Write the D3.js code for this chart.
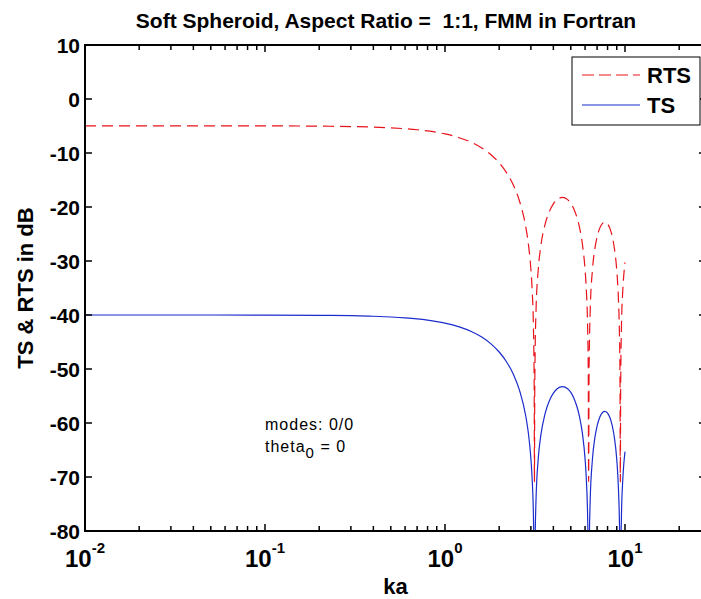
<!DOCTYPE html>
<html>
<head>
<meta charset="utf-8">
<script src="https://cdn.jsdelivr.net/npm/d3@7"></script>
<style>
  body { margin: 0; background: #fff; }
  text { font-family: "Liberation Sans", Arial, sans-serif; }
</style>
</head>
<body>
<div id="chart-area"></div>
<script>
let width = 701,
height = 599;

// data
let ka = [0.01, 0.02, 0.05, 0.1, 0.2, 0.3, 0.4, 0.5, 0.6, 0.7, 0.8, 0.9, 1.0,
  1.2, 1.4, 1.6, 1.8, 2.0, 2.2, 2.4, 2.6, 2.8, 2.9, 3.0,
  3.05, 3.1, 3.13, 3.14, 3.15, 3.17, 3.2,
  3.3, 3.4, 3.6, 3.8, 4.0, 4.2, 4.49, 4.8, 5.0, 5.2, 5.4, 5.6, 5.8, 6.0,
  6.1, 6.2, 6.25, 6.28, 6.31, 6.35, 6.4,
  6.6, 6.8, 7.0, 7.25, 7.5, 7.73, 8.0, 8.25, 8.5, 8.75, 9.0,
  9.2, 9.3, 9.38, 9.42, 9.46, 9.55, 9.7, 9.85, 10]

let rts = [-4.97, -4.97, -4.97, -4.98, -5.03, -5.10, -5.20, -5.34, -5.50, -5.69, -5.92, -6.18, -6.47,
  -7.17, -8.02, -9.06, -10.31, -11.82, -13.67, -15.98, -19.02, -23.41, -26.64, -31.52,
  -35.43, -42.42, -53.60, -70.87, -56.44, -45.92, -39.75,
  -31.38, -27.45, -23.18, -20.84, -19.43, -18.63, -18.23, -18.63, -19.31, -20.37, -21.86, -23.93, -26.90, -31.61,
  -35.47, -42.43, -50.47, -70.87, -52.40, -44.53, -39.76,
  -31.49, -27.74, -25.52, -23.87, -23.03, -22.80, -23.12, -24.00, -25.51, -27.90, -31.75,
  -37.28, -42.44, -51.40, -70.87, -53.55, -42.62, -36.02, -32.53, -30.26]

let ts = [-40.0, -40.0, -40.0, -40.01, -40.06, -40.13, -40.23, -40.37, -40.53, -40.72, -40.95, -41.21, -41.50,
  -42.20, -43.05, -44.09, -45.34, -46.85, -48.70, -51.01, -54.05, -58.44, -61.67, -66.55,
  -70.46, -77.45, -88.63, -105.9, -91.47, -80.95, -74.78,
  -66.41, -62.48, -58.21, -55.87, -54.46, -53.66, -53.26, -53.66, -54.34, -55.40, -56.89, -58.96, -61.93, -66.64,
  -70.50, -77.46, -85.50, -105.9, -87.43, -79.56, -74.79,
  -66.52, -62.77, -60.55, -58.90, -58.06, -57.83, -58.15, -59.03, -60.54, -62.93, -66.78,
  -72.31, -77.47, -86.43, -105.9, -88.58, -77.65, -71.05, -67.56, -65.29]

let yTicks = [10, 0, -10, -20, -30, -40, -50, -60, -70, -80]
let xMajor = [0.01, 0.1, 1, 10]
let xExp = ['-2', '-1', '0', '1']
let seriesNames = ['RTS', 'TS']

let m = {left: 85, top: 45, right: 706, bottom: 531}

let svg = d3.select("#chart-area").append("svg")
  .attr("width", width)
  .attr("height", height)

let x = d3.scaleLog().domain([0.01, 100]).range([m.left, m.left + 4 * 180])
let y = d3.scaleLinear().domain([-80, 10]).range([m.bottom, m.top])

svg.append('clipPath').attr('id', 'clip')
  .append('rect')
  .attr('x', m.left).attr('y', m.top)
  .attr('width', m.right - m.left).attr('height', m.bottom - m.top)

// minor + major ticks on the log axis
let xTicks = []
for (let e = -2; e <= 1; e++) {
  for (let k = 1; k <= 9; k++) xTicks.push(k * Math.pow(10, e))
}
xTicks.push(100)

let line = d3.line()
  .x((d, i) => x(ka[i]))
  .y(d => y(d))
  .curve(d3.curveMonotoneX)

let plot = svg.append('g').attr('clip-path', 'url(#clip)')

plot.append('path')
  .datum(rts)
  .attr('d', line)
  .attr('fill', 'none')
  .attr('stroke', '#e8141c')
  .attr('stroke-width', 1.2)
  .attr('stroke-dasharray', '11,6')

plot.append('path')
  .datum(ts)
  .attr('d', line)
  .attr('fill', 'none')
  .attr('stroke', '#1b2ccc')
  .attr('stroke-width', 1.2)

// box + ticks
let axes = svg.append('g')

axes.selectAll('.xt')
  .data(xTicks.filter(d => x(d) > m.left && x(d) < m.right))
  .enter().append('g')
  .each(function(d) {
    let len = xMajor.includes(d) ? 7 : 5
    let g = d3.select(this)
    g.append('line').attr('x1', x(d)).attr('x2', x(d))
      .attr('y1', m.bottom).attr('y2', m.bottom - len)
    g.append('line').attr('x1', x(d)).attr('x2', x(d))
      .attr('y1', m.top).attr('y2', m.top + len)
  })
  .attr('stroke', '#000')
  .attr('stroke-width', 1.5)

axes.selectAll('.yt')
  .data(yTicks.filter(d => d > -80 && d < 10))
  .enter().append('g')
  .each(function(d) {
    let g = d3.select(this)
    g.append('line').attr('x1', m.left).attr('x2', m.left + 7)
      .attr('y1', y(d)).attr('y2', y(d))
    g.append('line').attr('x1', m.right).attr('x2', m.right - 7)
      .attr('y1', y(d)).attr('y2', y(d))
  })
  .attr('stroke', '#000')
  .attr('stroke-width', 1.5)

axes.append('rect')
  .attr('x', m.left).attr('y', m.top)
  .attr('width', m.right - m.left).attr('height', m.bottom - m.top)
  .attr('fill', 'none')
  .attr('stroke', '#000')
  .attr('stroke-width', 2)

// tick labels
svg.selectAll('.ylab')
  .data(yTicks)
  .enter().append('text')
  .attr('x', m.left - 5)
  .attr('y', d => y(d))
  .attr('dy', '0.36em')
  .attr('text-anchor', 'end')
  .attr('font-size', 21)
  .attr('font-weight', 'bold')
  .text(d => d)

let xl = svg.selectAll('.xlab')
  .data(xMajor)
  .enter().append('text')
  .attr('x', d => x(d))
  .attr('y', 567)
  .attr('text-anchor', 'middle')
  .attr('font-weight', 'bold')

xl.append('tspan').attr('font-size', 24).text('10')
xl.append('tspan').attr('font-size', 15).attr('dy', -14).text((d, i) => xExp[i])

svg.append('text')
  .attr('x', (m.left + m.right) / 2)
  .attr('y', 594)
  .attr('text-anchor', 'middle')
  .attr('font-size', 22)
  .attr('font-weight', 'bold')
  .text('ka')

svg.append('text')
  .attr('transform', 'translate(33,' + (m.top + m.bottom) / 2 + ') rotate(-90)')
  .attr('text-anchor', 'middle')
  .attr('font-size', 22)
  .attr('font-weight', 'bold')
  .text('TS & RTS in dB')

svg.append('text')
  .attr('x', 386)
  .attr('y', 28)
  .attr('text-anchor', 'middle')
  .attr('font-size', 21)
  .attr('font-weight', 'bold')
  .style('white-space', 'pre')
  .text('Soft Spheroid, Aspect Ratio =  1:1, FMM in Fortran')

// annotation
svg.append('text')
  .attr('x', 265).attr('y', 430)
  .attr('font-size', 16)
  .attr('letter-spacing', 1)
  .text('modes: 0/0')

let th = svg.append('text')
  .attr('x', 265).attr('y', 452)
  .attr('font-size', 16)
  .attr('letter-spacing', 1)
th.append('tspan').text('theta')
th.append('tspan').attr('dy', 6).attr('font-size', 15).text('0')
th.append('tspan').attr('dy', -6).text(' = 0')

// legend
let leg = svg.append('g')
leg.append('rect')
  .attr('x', 572).attr('y', 57)
  .attr('width', 128).attr('height', 68)
  .attr('fill', '#fff')
  .attr('stroke', '#000')
  .attr('stroke-width', 1)

let legY = [75, 105]
leg.selectAll('.li')
  .data(seriesNames)
  .enter().append('line')
  .attr('x1', 582).attr('x2', 640)
  .attr('y1', (d, i) => legY[i]).attr('y2', (d, i) => legY[i])
  .attr('stroke', (d, i) => i === 0 ? '#e8141c' : '#1b2ccc')
  .attr('stroke-width', 1.2)
  .attr('stroke-dasharray', (d, i) => i === 0 ? '12,5' : null)

leg.selectAll('.lt')
  .data(seriesNames)
  .enter().append('text')
  .attr('x', 647)
  .attr('y', (d, i) => legY[i])
  .attr('dy', '0.36em')
  .attr('font-size', 22)
  .attr('font-weight', 'bold')
  .text(d => d)
</script>
</body>
</html>
